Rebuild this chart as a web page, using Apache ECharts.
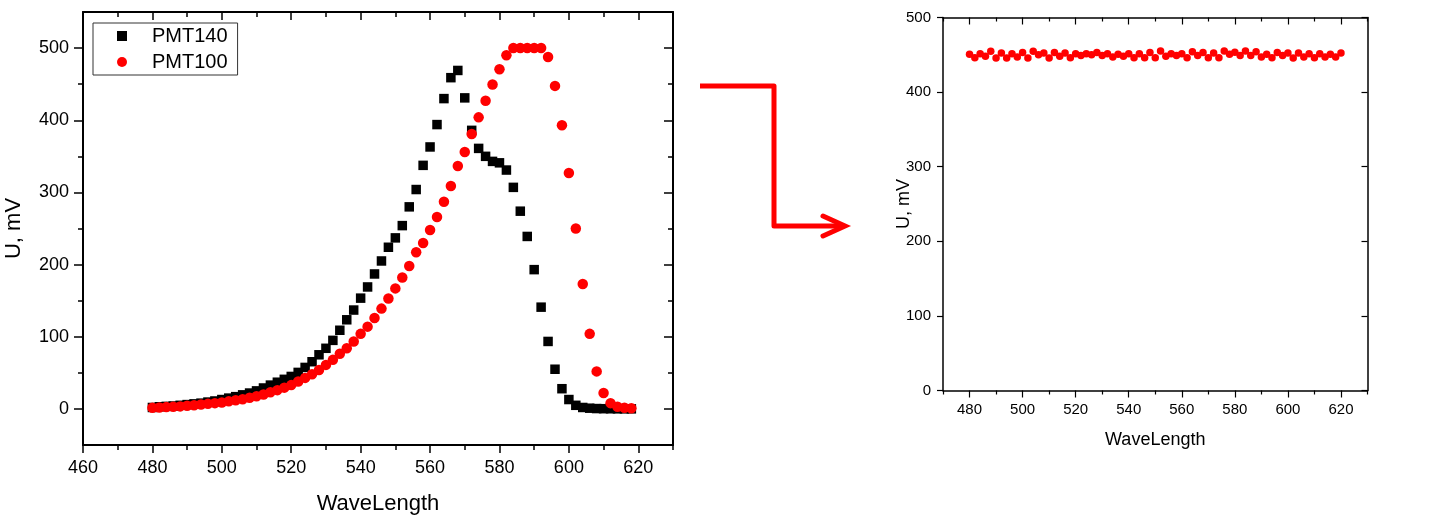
<!DOCTYPE html>
<html>
<head>
<meta charset="utf-8">
<script src="https://cdn.jsdelivr.net/npm/echarts@6/dist/echarts.min.js"></script>
<style>
html,body{margin:0;padding:0;background:#fff;}
#chart{width:1431px;height:521px;}
</style>
</head>
<body>
<div id="chart"></div>
<script>
// ---- Left chart data ----
const waveLeft = [480,482,484,486,488,490,492,494,496,498,500,502,504,506,508,510,512,514,516,518,
  520,522,524,526,528,530,532,534,536,538,540,542,544,546,548,550,552,554,556,558,
  560,562,564,566,568,570,572,574,576,578,580,582,584,586,588,590,592,594,596,598,
  600,602,604,606,608,610,612,614,616,618];
const pmt140 = [2,3,3.5,4,5,6,7,8,9.5,11,13,15,17,19.5,22,25,29,33,37,41,
  45,50.6,57.5,65.4,75,84,95,109,123.5,137,153.5,169,187,205,224,237,254,280,304,337.5,
  363,394,430,459,469,431,386,361,350,343,341,331,307,274,239,193,141,93.5,55,28,
  13,5,2,1,0.5,0.3,0.2,0.1,0.1,0.1];
const pmt100 = [1.5,2,2.5,3,3.5,4.5,5,6,7,8,9,10.5,12,13.5,15.5,17.5,20,23,26,29.5,
  33,38,43,48,54,61,68,76.5,84,93.5,104,114,126,139,153,167,182,198,217,230,
  248,266,287,309,336.5,356,381,404,427,449.5,470.7,490,500,500,500,500,500,487.7,447.6,393,
  327,250,173,104,52,22,8,3,1.5,1];
const leftXLabels = [460,480,500,520,540,560,580,600,620];
const leftXMinor = [470,490,510,530,550,570,590,610,630];
const leftYLabels = [0,100,200,300,400,500];
const leftYMinor = [50,150,250,350,450];

// ---- Right chart data ----
const waveRight = [480,482,484,486,488,490,492,494,496,498,500,502,504,506,508,510,512,514,516,518,
  520,522,524,526,528,530,532,534,536,538,540,542,544,546,548,550,552,554,556,558,
  560,562,564,566,568,570,572,574,576,578,580,582,584,586,588,590,592,594,596,598,
  600,602,604,606,608,610,612,614,616,618,620];
const pmtRight = [450.7,446,451.5,448,454.7,445.7,452.5,445.7,451.5,447,453,445.7,454.7,450,452.5,445.7,453,448,452.5,446,
  451.5,449,451.5,450,453,449,451.5,447,450.7,448,451.5,446,451.5,446,453,446,455,448,451.5,449,
  451.5,446,454,449,453,446,452.5,446,455,450.7,453.5,449,455,449,454,447,450.7,446,453,449,
  452.5,445.7,452.5,447,451.5,446,451.5,447,450.7,447,452.5];
const rightXLabels = [480,500,520,540,560,580,600,620];
const rightXMinor = [470,490,510,530,550,570,590,610,630];

const FONT = "'Liberation Sans', Arial, sans-serif";
const chart = echarts.init(document.getElementById('chart'), null, {renderer:'canvas'});

function pairs(xs, ys){ return xs.map((x,i)=>[x, ys[i]]); }

function axisBase(extra){
  return Object.assign({
    type:'value', splitLine:{show:false},
    axisLine:{show:false, onZero:false, lineStyle:{color:'#000', width:2}},
    axisTick:{show:false}, axisLabel:{show:false}
  }, extra);
}

const option = {
  animation:false,
  backgroundColor:'#fff',
  textStyle:{fontFamily:FONT},
  grid:[
    {left:83, top:12, width:590, height:433, containLabel:false},
    {left:943, top:17.5, width:424.5, height:373, containLabel:false}
  ],
  legend:{
    show:true, orient:'vertical', left:93, top:23,
    borderColor:'#333', borderWidth:1, backgroundColor:'#fff',
    padding:[3,10,3,24], itemGap:6, itemWidth:10, itemHeight:10,
    textStyle:{fontSize:20, color:'#000', fontFamily:FONT, padding:[0,0,0,20]},
    data:[{name:'PMT140', icon:'rect'},{name:'PMT100', icon:'circle'}]
  },
  xAxis:[
    axisBase({gridIndex:0, position:'bottom', min:460, max:630,
      axisLine:{show:true, onZero:false, lineStyle:{color:'#000', width:2}},
      axisTick:{show:true, customValues:leftXLabels, length:8, lineStyle:{color:'#000', width:1.5}},
      axisLabel:{show:true, customValues:leftXLabels, margin:14, fontSize:18, color:'#000', fontFamily:FONT},
      name:'WaveLength', nameLocation:'middle', nameGap:48, nameMoveOverlap:false,
      nameTextStyle:{fontSize:22, color:'#000', fontFamily:FONT}}),
    axisBase({gridIndex:0, position:'bottom', min:460, max:630,
      axisTick:{show:true, customValues:leftXMinor, length:5, lineStyle:{color:'#000', width:1.5}}}),
    axisBase({gridIndex:0, position:'top', min:460, max:630,
      axisLine:{show:true, onZero:false, lineStyle:{color:'#000', width:2}},
      axisTick:{show:true, inside:true, customValues:leftXLabels, length:8, lineStyle:{color:'#000', width:1.5}}}),
    axisBase({gridIndex:0, position:'top', min:460, max:630,
      axisTick:{show:true, inside:true, customValues:leftXMinor, length:5, lineStyle:{color:'#000', width:1.5}}}),
    axisBase({gridIndex:1, position:'bottom', min:470, max:630,
      axisLine:{show:true, onZero:false, lineStyle:{color:'#000', width:1.5}},
      axisTick:{show:true, customValues:rightXLabels, length:7, lineStyle:{color:'#000', width:1.2}},
      axisLabel:{show:true, customValues:rightXLabels, margin:12, fontSize:15, color:'#000', fontFamily:FONT},
      name:'WaveLength', nameLocation:'middle', nameGap:41, nameMoveOverlap:false,
      nameTextStyle:{fontSize:18, color:'#000', fontFamily:FONT}}),
    axisBase({gridIndex:1, position:'bottom', min:470, max:630,
      axisTick:{show:true, customValues:rightXMinor, length:4, lineStyle:{color:'#000', width:1.2}}}),
    axisBase({gridIndex:1, position:'top', min:470, max:630,
      axisLine:{show:true, onZero:false, lineStyle:{color:'#000', width:1.5}},
      axisTick:{show:true, inside:true, customValues:rightXLabels, length:7, lineStyle:{color:'#000', width:1.2}}}),
    axisBase({gridIndex:1, position:'top', min:470, max:630,
      axisTick:{show:true, inside:true, customValues:rightXMinor, length:4, lineStyle:{color:'#000', width:1.2}}})
  ],
  yAxis:[
    axisBase({gridIndex:0, position:'left', min:-50, max:550,
      axisLine:{show:true, onZero:false, lineStyle:{color:'#000', width:2}},
      axisTick:{show:true, customValues:leftYLabels, length:9, lineStyle:{color:'#000', width:1.5}},
      axisLabel:{show:true, customValues:leftYLabels, margin:14, fontSize:18, color:'#000', fontFamily:FONT},
      name:'U, mV', nameLocation:'middle', nameGap:58, nameRotate:90, nameMoveOverlap:false,
      nameTextStyle:{fontSize:22, color:'#000', fontFamily:FONT}}),
    axisBase({gridIndex:0, position:'left', min:-50, max:550,
      axisTick:{show:true, customValues:leftYMinor, length:5, lineStyle:{color:'#000', width:1.5}}}),
    axisBase({gridIndex:0, position:'right', min:-50, max:550,
      axisLine:{show:true, onZero:false, lineStyle:{color:'#000', width:2}},
      axisTick:{show:true, inside:true, customValues:leftYLabels, length:9, lineStyle:{color:'#000', width:1.5}}}),
    axisBase({gridIndex:0, position:'right', min:-50, max:550,
      axisTick:{show:true, inside:true, customValues:leftYMinor, length:5, lineStyle:{color:'#000', width:1.5}}}),
    axisBase({gridIndex:1, position:'left', min:0, max:500, interval:100,
      axisLine:{show:true, onZero:false, lineStyle:{color:'#000', width:1.5}},
      axisTick:{show:true, length:6, lineStyle:{color:'#000', width:1.2}},
      axisLabel:{show:true, margin:12, fontSize:15, color:'#000', fontFamily:FONT},
      name:'U, mV', nameLocation:'middle', nameGap:30, nameRotate:90, nameMoveOverlap:false,
      nameTextStyle:{fontSize:18, color:'#000', fontFamily:FONT}}),
    axisBase({gridIndex:1, position:'right', min:0, max:500, interval:100,
      axisLine:{show:true, onZero:false, lineStyle:{color:'#000', width:1.5}},
      axisTick:{show:true, inside:true, length:6, lineStyle:{color:'#000', width:1.2}}})
  ],
  series:[
    {name:'PMT140', type:'scatter', xAxisIndex:0, yAxisIndex:0, symbol:'rect', symbolSize:9.5,
      itemStyle:{color:'#000000', opacity:1}, data:pairs(waveLeft, pmt140), z:2},
    {name:'PMT100', type:'scatter', xAxisIndex:0, yAxisIndex:0, symbol:'circle', symbolSize:10.5,
      itemStyle:{color:'#FF0000', opacity:1}, data:pairs(waveLeft, pmt100), z:3},
    {name:'PMT', type:'scatter', xAxisIndex:4, yAxisIndex:4, symbol:'circle', symbolSize:7.5,
      itemStyle:{color:'#FF0000', opacity:1}, data:pairs(waveRight, pmtRight), z:3}
  ],
  graphic:[
    {type:'polyline', shape:{points:[[700,86],[774,86],[774,226],[842,226]]},
      style:{stroke:'#FF0000', lineWidth:5, fill:null, lineJoin:'round', lineCap:'butt'}, z:10},
    {type:'polyline', shape:{points:[[823,216],[845,226],[823,236]]},
      style:{stroke:'#FF0000', lineWidth:5, fill:null, lineJoin:'miter', lineCap:'round'}, z:10}
  ]
};
chart.setOption(option);
</script>
</body>
</html>
